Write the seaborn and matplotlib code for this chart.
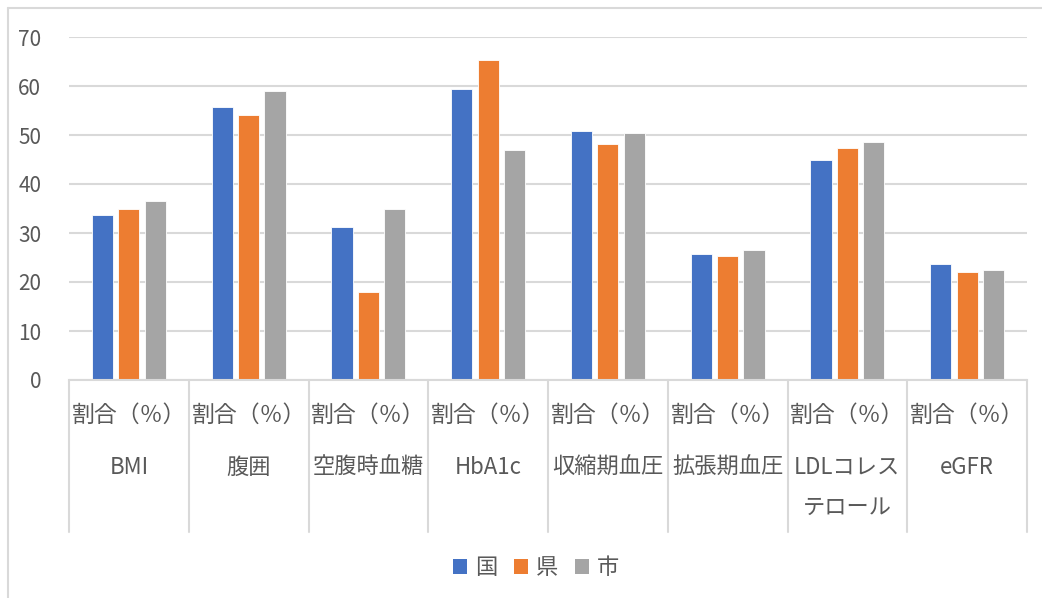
import matplotlib
matplotlib.use("Agg")
import matplotlib.pyplot as plt
from matplotlib.lines import Line2D
from matplotlib.patches import Patch
import matplotlib.transforms as mtransforms
import numpy as np
import pandas as pd
import seaborn as sns

# 健診項目別の有所見者割合（％）
categories = ["BMI", "腹囲", "空腹時血糖", "HbA1c", "収縮期血圧", "拡張期血圧", "LDLコレス\nテロール", "eGFR"]
row_label = "割合（％）"
series_names = ["国", "県", "市"]
kuni = [33.7, 55.7, 31.3, 59.3, 50.9, 25.7, 44.9, 23.7]
ken = [34.9, 54.1, 18.0, 65.4, 48.1, 25.3, 47.4, 22.1]
shi = [36.5, 59.0, 34.9, 46.9, 50.5, 26.6, 48.5, 22.5]
colors = ["#4472C4", "#ED7D31", "#A5A5A5"]
yticks = [0, 10, 20, 30, 40, 50, 60, 70]

sns.set_theme(style="white")
plt.rcParams["font.family"] = ["Noto Sans CJK JP", "DejaVu Sans"]

text_color = "#595959"
grid_color = "#D9D9D9"

df = pd.DataFrame({
    "項目": np.repeat(categories, len(series_names)),
    "区分": series_names * len(categories),
    "割合": [v for trio in zip(kuni, ken, shi) for v in trio],
})

W, H = 1042, 598
fig = plt.figure(figsize=(W / 100, H / 100), dpi=100)
ax = fig.add_axes([69 / W, 1 - 380 / H, (1027 - 69) / W, (380 - 37) / H])

sns.barplot(data=df, x="項目", y="割合", hue="区分", order=categories,
            hue_order=series_names, palette=colors, width=0.66, gap=0.2,
            edgecolor="white", linewidth=0.6, saturation=1, ax=ax, legend=False)

ax.set_ylim(0, 70)
ax.set_xlim(-0.5, len(categories) - 0.5)
ax.set_yticks(yticks)
ax.set_yticklabels([str(t) for t in yticks], fontsize=15, color=text_color)
ax.tick_params(axis="y", length=0, pad=20)
ax.set_xticks([])
ax.set_xlabel("")
ax.set_ylabel("")
ax.yaxis.grid(True, color=grid_color, linewidth=1.5)
ax.set_axisbelow(True)
for side in ["left", "right", "top"]:
    ax.spines[side].set_visible(False)
ax.spines["bottom"].set_color(grid_color)
ax.spines["bottom"].set_linewidth(1.5)

# two-row category table under the axis
px = 380 - 37
trans = mtransforms.blended_transform_factory(ax.transData, ax.transAxes)
for b in np.arange(-0.5, len(categories), 1.0):
    ax.plot([b, b], [0, -(532 - 380) / px], transform=trans, color=grid_color,
            linewidth=1.5, clip_on=False)
for i, name in enumerate(categories):
    ax.text(i, -(415 - 380) / px, row_label, transform=trans, ha="center",
            va="center", fontsize=16.5, color=text_color)
    ax.text(i, -(456 - 380) / px, name, transform=trans, ha="center",
            va="top", fontsize=16, color=text_color, linespacing=1.95)

handles = [Patch(facecolor=c, edgecolor="none") for c in colors]
fig.legend(handles, series_names, loc="center", bbox_to_anchor=(536 / W, 1 - 568 / H),
           ncol=3, frameon=False, fontsize=16, handlelength=0.65,
           handleheight=0.65, handletextpad=0.35, columnspacing=0.75,
           labelcolor=text_color)

# chart frame
fig.add_artist(Line2D([8 / W, 8 / W], [0, 1 - 8 / H], color=grid_color, linewidth=1.5))
fig.add_artist(Line2D([8 / W, 1], [1 - 8 / H, 1 - 8 / H], color=grid_color, linewidth=1.5))

fig.savefig("out.png", dpi=100)
